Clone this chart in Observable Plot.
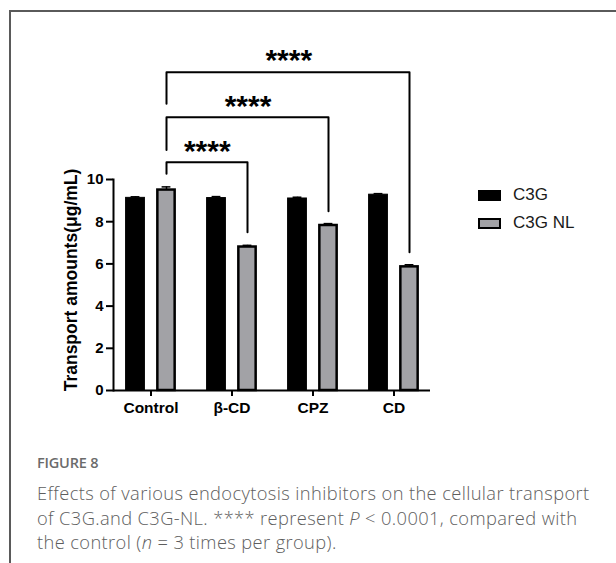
<!DOCTYPE html>
<html>
<head>
<meta charset="utf-8">
<script src="https://cdn.jsdelivr.net/npm/d3@7"></script>
<script src="https://cdn.jsdelivr.net/npm/@observablehq/plot@0.6"></script>
<style>
  html, body { margin: 0; padding: 0; background: #fff; }
  #page { position: relative; width: 616px; height: 563px; overflow: hidden; background: #fff; }
  #frame { position: absolute; left: 9px; top: 10px; width: 620px; height: 600px;
           border-left: 2px solid #5a5a5a; border-top: 2px solid #5a5a5a; }
  #chart { position: absolute; left: 0; top: 0; width: 450px; }
  #chart g[aria-label="y-axis tick label"], #chart g[aria-label="y-axis tick label"] text { font-size: 15px; font-weight: bold; }
  #chart g[aria-label="x-axis tick label"], #chart g[aria-label="x-axis tick label"] text { font-size: 15.5px; font-weight: bold; }
  .legend { position: absolute; left: 478px; font-family: "Liberation Sans", Arial, sans-serif;
            font-size: 17px; color: #1a1a1a; }
  .legend .row { position: absolute; left: 0; white-space: nowrap; height: 20px; }
  .legend .sw { position: absolute; left: 0; top: 5px; width: 23px; height: 11px; box-sizing: border-box; }
  .legend .lab { position: absolute; left: 35px; top: 0; line-height: 20px; }
  #figlabel { position: absolute; left: 37px; top: 453px; font-family: "Open Sans", sans-serif;
              font-size: 14.5px; font-weight: 600; color: #6b6b6b; line-height: 20px; letter-spacing: -0.2px; }
  #caption { position: absolute; left: 37px; top: 481px; font-family: "Open Sans", sans-serif;
             font-size: 18.3px; font-weight: 300; color: #5e5e5e; line-height: 24.5px; white-space: nowrap; letter-spacing: 0.38px; }
</style>
</head>
<body>
<div id="page">
  <div id="frame"></div>
  <div id="chart"></div>
  <div class="legend" id="legend"></div>
  <div id="figlabel">FIGURE 8</div>
  <div id="caption">Effects of various endocytosis inhibitors on the cellular transport<br>of C3G.and C3G-NL. **** represent <i>P</i> &lt; 0.0001, compared with<br>the control (<i>n</i> = 3 times per group).</div>
</div>
<script>
// ---- data ----
const categories = ["Control", "β-CD", "CPZ", "CD"];
const seriesNames = ["C3G", "C3G NL"];
const c3gValues = [9.13, 9.12, 9.10, 9.28];
const c3gErrors = [0.05, 0.07, 0.06, 0.05];
const c3gNLValues = [9.50, 6.80, 7.82, 5.86];
const c3gNLErrors = [0.15, 0.08, 0.09, 0.10];
const yTicks = [0, 2, 4, 6, 8, 10];
const yLabel = "Transport amounts(μg/mL)";
// significance brackets (Control C3G NL vs each inhibitor's C3G NL)
const sigTargets = ["β-CD", "CPZ", "CD"];
const sigLabels = ["****", "****", "****"];
const sigBarY = [10.82, 12.95, 15.08];
const sigLeftLegEnd = [10.27, 11.40, 13.59];
const sigRightLegEnd = [7.50, 8.50, 6.55];
const sigTextY = [11.46, 13.62, 15.78];

const seriesColors = ["#000000", "#a2a2a6"];

// ---- layout ----
const W = 450, H = 420;
const mL = 113, mR = 20, mT = 179, mB = 30;
const padInner = 0.2, padOuter = 0.045;
const step = (W - mL - mR) / (categories.length - padInner + 2 * padOuter);
const bw = step * (1 - padInner);
const barW = 20, off = 15.5, capW = 9;

const table = [];
categories.forEach((c, i) => {
  table.push({cat: c, series: seriesNames[0], value: c3gValues[i], err: c3gErrors[i]});
  table.push({cat: c, series: seriesNames[1], value: c3gNLValues[i], err: c3gNLErrors[i]});
});
const s0 = table.filter(d => d.series === seriesNames[0]);
const s1 = table.filter(d => d.series === seriesNames[1]);

const bracketPts = [];
sigTargets.forEach((t, k) => {
  bracketPts.push({k, cat: categories[0], y: sigLeftLegEnd[k]});
  bracketPts.push({k, cat: categories[0], y: sigBarY[k]});
  bracketPts.push({k, cat: t, y: sigBarY[k]});
  bracketPts.push({k, cat: t, y: sigRightLegEnd[k]});
});

const barMark = (data, sign, fill) => Plot.barY(data, {
  x: "cat", y: "value", fill,
  stroke: "#000", strokeWidth: sign > 0 ? 2.5 : 1,
  insetLeft: bw / 2 + sign * off - barW / 2 + (sign > 0 ? 1.25 : 0.5),
  insetRight: bw / 2 - sign * off - barW / 2 + (sign > 0 ? 1.25 : 0.5)
});
const errMarks = (data, sign) => [
  Plot.ruleX(data, {x: "cat", y1: "value", y2: d => d.value + d.err, dx: sign * off, stroke: "#000", strokeWidth: 1.5}),
  Plot.tickY(data, {x: "cat", y: d => d.value + d.err, dx: sign * off, stroke: "#000", strokeWidth: 1.5,
    insetLeft: bw / 2 - capW / 2, insetRight: bw / 2 - capW / 2})
];
// star labels anchored on the Control band, shifted to the bracket midpoint
const starMarks = sigTargets.map((t, k) => Plot.text([k], {
  x: () => categories[0], y: i => sigTextY[i], text: i => sigLabels[i],
  dx: off + categories.indexOf(t) * step / 2,
  lineAnchor: "middle", dy: 3, fontSize: 30, fontWeight: "bold", fill: "#000"
}));

const plot = Plot.plot({
  width: W, height: H,
  marginLeft: mL, marginRight: mR, marginTop: mT, marginBottom: mB,
  style: {fontFamily: "'Liberation Sans', Arial, sans-serif", fontWeight: "bold", color: "#000", background: "transparent", overflow: "visible"},
  x: {domain: categories, paddingInner: padInner, paddingOuter: padOuter, label: null},
  y: {domain: [0, 10], label: null},
  marks: [
    barMark(s0, -1, seriesColors[0]),
    barMark(s1, 1, seriesColors[1]),
    ...errMarks(s0, -1),
    ...errMarks(s1, 1),
    Plot.line(bracketPts, {x: "cat", y: "y", z: "k", dx: off, stroke: "#000", strokeWidth: 2}),
    ...starMarks,
    Plot.ruleY([0], {stroke: "#000", strokeWidth: 2}),
    Plot.axisY({ticks: yTicks, tickSize: 7, tickPadding: 3, fontSize: 15, fontWeight: "bold", strokeWidth: 2, label: null}),
    Plot.axisX({tickSize: 6, tickPadding: 5, fontSize: 15.5, fontWeight: "bold", strokeWidth: 2, label: null}),
    Plot.frame({anchor: "left", stroke: "#000", strokeWidth: 2}),
    Plot.text([yLabel], {frameAnchor: "left", textAnchor: "middle", text: d => d, rotate: -90, dx: -42, dy: -5, fontSize: 17.5, fontWeight: "bold", fill: "#000"})
  ]
});

document.getElementById("chart").appendChild(plot);

// legend
const legend = document.getElementById("legend");
const rowsTop = [184.5, 213];
seriesNames.forEach((name, i) => {
  const row = document.createElement("div");
  row.className = "row";
  row.style.top = rowsTop[i] + "px";
  const sw = document.createElement("div");
  sw.className = "sw";
  sw.style.background = seriesColors[i];
  sw.style.border = "2.5px solid #000";
  const lab = document.createElement("div");
  lab.className = "lab";
  lab.textContent = name;
  row.appendChild(sw); row.appendChild(lab);
  legend.appendChild(row);
});
</script>
</body>
</html>
